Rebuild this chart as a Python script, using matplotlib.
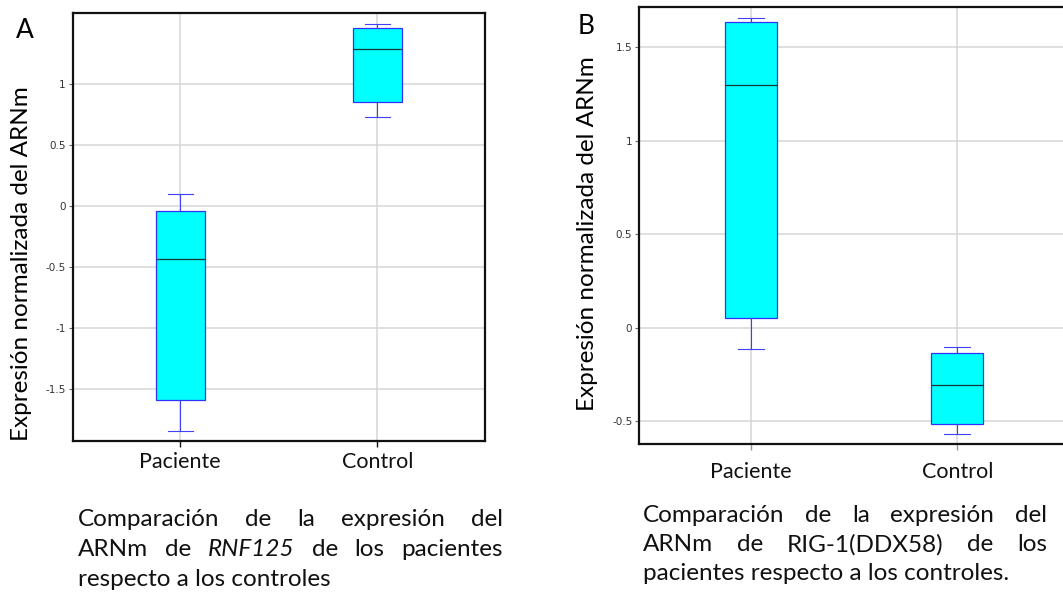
import matplotlib
matplotlib.use("Agg")
import matplotlib.pyplot as plt
from matplotlib.ticker import FixedLocator, FuncFormatter

# ---- data ----
categories = ["Paciente", "Control"]

# panel A: RNF125
a_whislo = [-1.85, 0.725]
a_q1 = [-1.59, 0.85]
a_med = [-0.435, 1.282]
a_q3 = [-0.043, 1.457]
a_whishi = [0.098, 1.49]
a_yticks = [-1.5, -1, -0.5, 0, 0.5, 1]

# panel B: RIG-1 (DDX58)
b_whislo = [-0.112, -0.568]
b_q1 = [0.05, -0.517]
b_med = [1.30, -0.308]
b_q3 = [1.633, -0.134]
b_whishi = [1.655, -0.102]
b_yticks = [-0.5, 0, 0.5, 1, 1.5]

W, H = 1063, 593
TEXT_FONT = ["Lato", "DejaVu Sans"]
BOX_FACE = "#00ffff"
BOX_EDGE = "#3030ff"
WHISK = "#4040ff"
GRID = "#d6d6d6"


def make_stats(lo, q1, med, q3, hi):
    return [dict(whislo=lo[i], q1=q1[i], med=med[i], q3=q3[i], whishi=hi[i],
                 fliers=[], label=categories[i]) for i in range(len(lo))]


def draw_panel(ax, stats, yticks, ylim, xlim, label_pad, xtick_color, ylab_xy):
    ax.bxp(stats, positions=[1, 2], widths=0.25, capwidths=0.125,
           patch_artist=True, showfliers=False,
           boxprops=dict(facecolor=BOX_FACE, edgecolor=BOX_EDGE, linewidth=0.9),
           medianprops=dict(color="#1c3434", linewidth=0.9),
           whiskerprops=dict(color=WHISK, linewidth=0.8),
           capprops=dict(color=WHISK, linewidth=0.8), zorder=3)
    ax.set_xlim(*xlim)
    ax.set_ylim(*ylim)
    ax.yaxis.set_major_locator(FixedLocator(yticks))
    ax.yaxis.set_major_formatter(FuncFormatter(lambda v, p: "%g" % v))
    ax.set_xticks([1, 2])
    ax.set_xticklabels(categories, family=TEXT_FONT, fontsize=15.5, color="#111111")
    ax.tick_params(axis="x", length=4, width=1, color=xtick_color, pad=label_pad)
    ax.tick_params(axis="y", length=3, width=0.8, color="#666666", pad=2,
                   labelsize=7.5, labelcolor="#333333")
    ax.grid(True, color=GRID, linewidth=1.1, zorder=0)
    ax.set_axisbelow(True)
    for s in ax.spines.values():
        s.set_linewidth(1.6)
        s.set_color("#111111")
    ax.set_ylabel("Expresión normalizada del ARNm", family=TEXT_FONT,
                  fontsize=17.5, va="center")
    ax.yaxis.set_label_coords(*ylab_xy)


def caption(fig, x0, x1, y, lines, size=17.5, step=30):
    renderer = fig.canvas.get_renderer()
    for k, (words, justify) in enumerate(lines):
        yy = 1 - (y + k * step) / H
        if not justify:
            txt = " ".join(w for w, _ in words)
            fig.text(x0 / W, yy, txt, family=TEXT_FONT, fontsize=size,
                     va="center", ha="left", color="#111111")
            continue
        texts = [fig.text(0, yy, w, family=TEXT_FONT, fontsize=size,
                          style=st, va="center", ha="left", color="#111111")
                 for w, st in words]
        widths = [t.get_window_extent(renderer).width for t in texts]
        gap = (x1 - x0 - sum(widths)) / (len(words) - 1)
        x = x0
        for t, w in zip(texts, widths):
            t.set_x(x / W)
            x += w + gap


fig = plt.figure(figsize=(W / 100, H / 100), dpi=100)
fig.patch.set_facecolor("white")

ax_a = fig.add_axes([72.7 / W, 1 - 441 / H, (485 - 72.7) / W, (441 - 13.3) / H])
draw_panel(ax_a, make_stats(a_whislo, a_q1, a_med, a_q3, a_whishi), a_yticks,
           (-1.93, 1.577), (0.454, 2.547), 4, "#111111", (-0.125, 0.414))

ax_b = fig.add_axes([639.3 / W, 1 - 443.5 / H, (1075 - 639.3) / W, (443.5 - 7.3) / H])
draw_panel(ax_b, make_stats(b_whislo, b_q1, b_med, b_q3, b_whishi), b_yticks,
           (-0.619, 1.713), (0.4566, 2.5717), 9, "#999999", (-0.12, 0.481))

fig.text(25 / W, 1 - 30 / H, "A", family=TEXT_FONT, fontsize=19, ha="center", va="center")
fig.text(586 / W, 1 - 27 / H, "B", family=TEXT_FONT, fontsize=19, ha="center", va="center")

caption(fig, 78, 503, 520, [
    ([("Comparación", "normal"), ("de", "normal"), ("la", "normal"),
      ("expresión", "normal"), ("del", "normal")], True),
    ([("ARNm", "normal"), ("de", "normal"), ("RNF125", "italic"), ("de", "normal"),
      ("los", "normal"), ("pacientes", "normal")], True),
    ([("respecto", "normal"), ("a", "normal"), ("los", "normal"),
      ("controles", "normal")], False),
])
caption(fig, 643, 1047, 516, [
    ([("Comparación", "normal"), ("de", "normal"), ("la", "normal"),
      ("expresión", "normal"), ("del", "normal")], True),
    ([("ARNm", "normal"), ("de", "normal"), ("RIG-1(DDX58)", "normal"),
      ("de", "normal"), ("los", "normal")], True),
    ([("pacientes", "normal"), ("respecto", "normal"), ("a", "normal"),
      ("los", "normal"), ("controles.", "normal")], False),
], step=28.5)

fig.savefig("out.png", dpi=100)
